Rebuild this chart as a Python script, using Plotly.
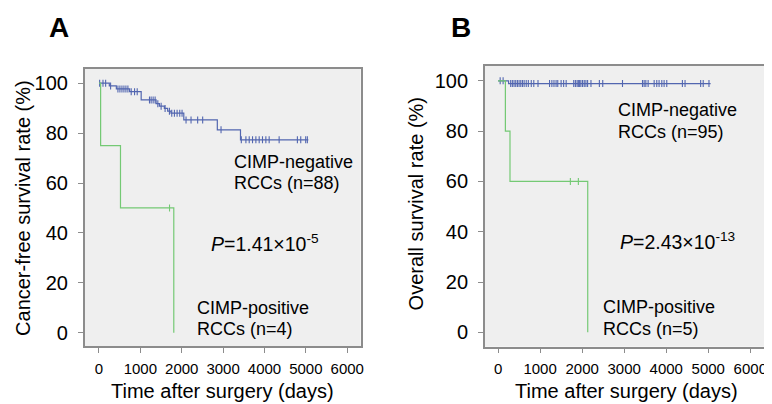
import numpy as np
import plotly.graph_objects as go

# Panel A: cancer-free survival
a_neg_t = [0, 250, 420, 740, 1020, 1380, 1460, 1580, 1660, 1740, 2050, 2860, 3420, 5060]
a_neg_s = [100, 98.9, 97.7, 96.6, 93.3, 91.8, 90.8, 89.9, 88.8, 88.0, 85.3, 81.3, 77.3, 77.3]
a_neg_cens = [16, 97, 161, 281, 458, 506, 555, 603, 651, 699, 779, 860, 924,
              1221, 1261, 1309, 1357, 1422, 1502, 1598, 1703, 1759, 1823, 1888,
              1952, 2008, 2104, 2225, 2385, 2506, 2950, 3440, 3551, 3631, 3711,
              3792, 3872, 3952, 4033, 4113, 4354, 4795, 4876, 4996, 5036]
a_pos_t = [0, 40, 520, 1808]
a_pos_s = [100, 75, 50, 0]
a_pos_cens = [1705]

# Panel B: overall survival
b_neg_t = [0, 250, 5056]
b_neg_s = [100, 98.9, 98.9]
b_neg_cens = [50, 120, 300, 340, 380, 420, 460, 500, 540, 580, 620, 670, 720, 790,
              850, 950, 1225, 1280, 1330, 1380, 1420, 1500, 1560, 1620, 1800, 1840,
              1880, 1910, 1940, 1970, 2010, 2050, 2090, 2130, 2210, 2410, 2490, 2960,
              3436, 3475, 3515, 3570, 3713, 3775, 3830, 3895, 3950, 4013, 4385, 4448,
              4819, 4880, 5017]
b_pos_t = [0, 174, 284, 2133]
b_pos_s = [100, 80, 60, 0]
b_pos_cens = [1720, 1910]

x_ticks = [0, 1000, 2000, 3000, 4000, 5000, 6000]
y_ticks = [0, 20, 40, 60, 80, 100]

BLUE = "#5266b0"
GREEN = "#74c974"
FONT = "Liberation Sans, Arial, sans-serif"

# the page body keeps its default 8px margin, so the figure is drawn 8px in
W, H, OFF = 764, 396, 8


def px(x):
    return (x - OFF) / W


def py(y):
    return 1 - (y - OFF) / H


def surv_at(times, surv, t):
    idx = np.searchsorted(np.array(times), np.array(t), side="right") - 1
    return np.array(surv)[idx]


fig = go.Figure()


def add_curve(t, s, cens, color, xa, ya):
    fig.add_trace(go.Scatter(x=t, y=s, mode="lines", line=dict(color=color, width=1.2, shape="hv"),
                             xaxis=xa, yaxis=ya, showlegend=False, hoverinfo="skip"))
    fig.add_trace(go.Scatter(x=cens, y=surv_at(t, s, cens), mode="markers",
                             marker=dict(symbol="line-ns", size=5, line=dict(color=color, width=1.1)),
                             xaxis=xa, yaxis=ya, showlegend=False, hoverinfo="skip"))


add_curve(a_neg_t, a_neg_s, a_neg_cens, BLUE, "x", "y")
add_curve(a_pos_t, a_pos_s, a_pos_cens, GREEN, "x", "y")
add_curve(b_neg_t, b_neg_s, b_neg_cens, BLUE, "x2", "y2")
add_curve(b_pos_t, b_pos_s, b_pos_cens, GREEN, "x2", "y2")

axis_common = dict(showgrid=False, zeroline=False, showline=True, linecolor="#8c8c8c",
                   linewidth=1.5, mirror=True, ticks="outside", ticklen=5, tickwidth=1,
                   tickcolor="#8c8c8c")

fig.update_layout(
    width=W, height=H,
    margin=dict(l=0, r=0, t=0, b=0),
    paper_bgcolor="white",
    plot_bgcolor="#efefef",
    font=dict(family=FONT, color="black"),
    xaxis=dict(domain=[px(85), px(362)], range=[-345, 6323], tickvals=x_ticks,
               tickfont=dict(size=15), ticklabelstandoff=3, anchor="y", **axis_common),
    yaxis=dict(domain=[py(346), py(69)], range=[-5.33, 105.7], tickvals=y_ticks,
               tickfont=dict(size=20), ticklabelstandoff=6, anchor="x", **axis_common),
    xaxis2=dict(domain=[px(486.7), 1.0], range=[-315, 6445], tickvals=x_ticks,
                tickfont=dict(size=15), ticklabelstandoff=3, anchor="y2", **axis_common),
    yaxis2=dict(domain=[py(346.7), py(65.7)], range=[-5.72, 106.0], tickvals=y_ticks,
                tickfont=dict(size=20), ticklabelstandoff=6, anchor="x2", **axis_common),
)

ann = []


def text(x, y, s, xref="x", yref="y", size=18, xanchor="left", **kw):
    ann.append(dict(x=x, y=y, xref=xref, yref=yref, text=s, showarrow=False,
                    xanchor=xanchor, yanchor="middle", font=dict(size=size, family=FONT, color="black"), **kw))


# panel A annotations
text(3214, 68.6, "CIMP-negative")
text(3214, 60.2, "RCCs (n=88)")
text(2667, 36.0, "<i>P</i>=1.41×10<sup>-5</sup>", size=19.5)
text(2330, 10.1, "CIMP-positive")
text(2330, 1.5, "RCCs (n=4)")
# panel B annotations
text(2804, 88.2, "CIMP-negative", xref="x2", yref="y2")
text(2804, 79.5, "RCCs (n=95)", xref="x2", yref="y2")
text(2860, 36.2, "<i>P</i>=2.43×10<sup>-13</sup>", xref="x2", yref="y2", size=19.5)
text(2448, 9.9, "CIMP-positive", xref="x2", yref="y2")
text(2448, 1.3, "RCCs (n=5)", xref="x2", yref="y2")

# axis titles and panel letters
text(px(223.5), py(391), "Time after surgery (days)", xref="paper", yref="paper", size=20, xanchor="center")
text(px(629), py(391), "Time after surgery (days)", xref="paper", yref="paper", size=20, xanchor="center")
text(px(23), py(208), "Cancer-free survival rate (%)", xref="paper", yref="paper", size=20,
     xanchor="center", textangle=-90)
text(px(418), py(204), "Overall survival rate (%)", xref="paper", yref="paper", size=20,
     xanchor="center", textangle=-90)
text(px(58.8), py(27.3), "<b>A</b>", xref="paper", yref="paper", size=28, xanchor="center")
text(px(462.5), py(27.5), "<b>B</b>", xref="paper", yref="paper", size=28, xanchor="center")

fig.update_layout(annotations=ann)

fig.write_html("out.html")
